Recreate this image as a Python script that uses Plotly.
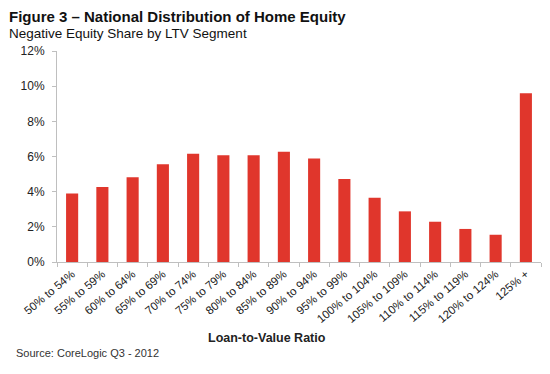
import plotly.graph_objects as go

categories = ["50% to 54%", "55% to 59%", "60% to 64%", "65% to 69%", "70% to 74%",
              "75% to 79%", "80% to 84%", "85% to 89%", "90% to 94%", "95% to 99%",
              "100% to 104%", "105% to 109%", "110% to 114%", "115% to 119%",
              "120% to 124%", "125% +"]
values = [3.9, 4.27, 4.82, 5.56, 6.16, 6.07, 6.07, 6.27, 5.88, 4.72,
          3.66, 2.88, 2.29, 1.88, 1.55, 9.6]
y_ticks = [0, 2, 4, 6, 8, 10, 12]
y_tick_labels = [f"{v}%" for v in y_ticks]

# the page body has an 8px default margin; compensate so the figure lands like the reference
OFF = 8
L, T = 57 - OFF, 51 - OFF
PW, PH = 484, 211

fig = go.Figure(go.Bar(x=categories, y=values, marker_color="#E0362C",
                       marker_line_width=0))

fig.update_layout(
    width=550 - OFF, height=374 - OFF,
    margin=dict(l=L, r=9, t=T, b=374 - OFF - T - PH),
    plot_bgcolor="white", paper_bgcolor="white",
    bargap=0.6, showlegend=False,
    font=dict(family="Liberation Sans, Arial, sans-serif", color="#222222"),
)
fig.update_xaxes(
    showline=True, linecolor="#BFBFBF", linewidth=1,
    ticks="outside", tickson="boundaries", ticklen=4, tickcolor="#BFBFBF",
    tickangle=-40, tickfont=dict(size=11.5, color="#222222"),
    showgrid=False, automargin=False,
)
fig.update_yaxes(
    range=[0, 12], tickvals=y_ticks, ticktext=y_tick_labels,
    showline=True, linecolor="#BFBFBF", linewidth=1,
    ticks="outside", ticklen=4, tickcolor="#BFBFBF", ticklabelstandoff=5,
    tickfont=dict(size=12, color="#222222"),
    showgrid=False, zeroline=False, automargin=False,
)

def px_x(wx):
    return (wx - OFF - L) / PW

def px_y(wy):
    return 1 - (wy - OFF - T) / PH

fig.add_annotation(text="<b>Figure 3 – National Distribution of Home Equity</b>",
                   xref="paper", yref="paper", x=px_x(OFF), y=px_y(17),
                   xanchor="left", yanchor="middle", showarrow=False, borderpad=0,
                   font=dict(size=15, color="#111111"))
fig.add_annotation(text="Negative Equity Share by LTV Segment",
                   xref="paper", yref="paper", x=px_x(OFF), y=px_y(33),
                   xanchor="left", yanchor="middle", showarrow=False, borderpad=0,
                   font=dict(size=13.5, color="#111111"))
fig.add_annotation(text="<b>Loan-to-Value Ratio</b>",
                   xref="paper", yref="paper", x=px_x(267), y=px_y(338),
                   xanchor="center", yanchor="middle", showarrow=False,
                   font=dict(size=12.5, color="#222222"))
fig.add_annotation(text="Source: CoreLogic Q3 - 2012",
                   xref="paper", yref="paper", x=px_x(14), y=px_y(353),
                   xanchor="left", yanchor="middle", showarrow=False,
                   font=dict(size=11, color="#333333"))

fig.write_html("out.html")
